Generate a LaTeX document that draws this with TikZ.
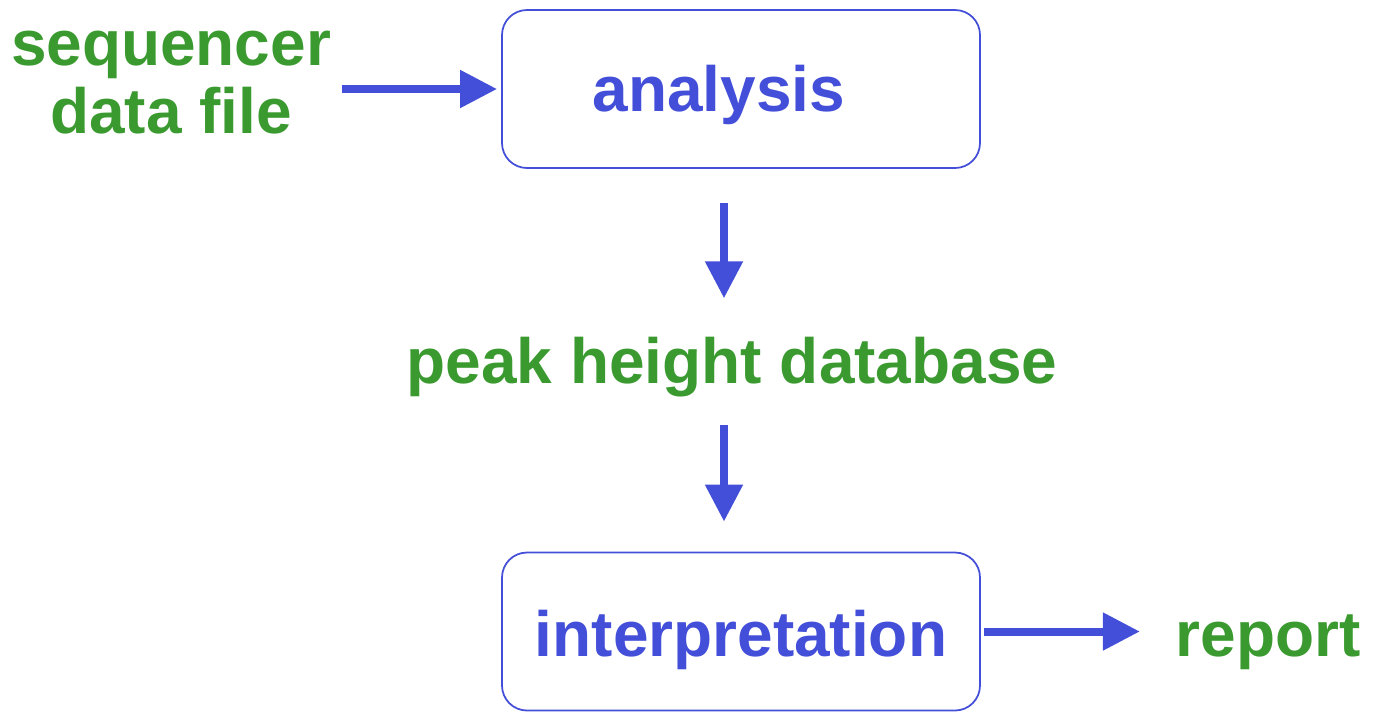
\documentclass[tikz,border=0pt]{standalone}
\usepackage{fontspec}
\setmainfont{Liberation Sans}
\usetikzlibrary{arrows.meta}
\definecolor{bl}{HTML}{444FD9}
\definecolor{gr}{HTML}{3A9A2F}
\tikzset{
  box/.style={draw=bl, line width=0.5pt, rounded corners=0.25cm, minimum width=4.78cm, minimum height=1.58cm, inner sep=0},
  btext/.style={text=bl, font=\fontsize{18.2}{19.5}\selectfont\bfseries, inner sep=0},
  gtext/.style={text=gr, font=\fontsize{18.2}{19.5}\selectfont\bfseries, inner sep=0, align=center},
  arr/.style={draw=bl, line width=0.08cm, -{Triangle[length=0.37cm, width=0.36cm]}}
}
\begin{document}
\begin{tikzpicture}
\useasboundingbox (0,0) rectangle (13.8,-7.12);
\node[box] (ana) at (7.41,-0.89) {};
\node[btext] (anat) at (7.19,-0.95) {analysis};
\node[box] (int) at (7.41,-6.315) {};
\node[btext] (intt) at (7.41,-6.395) {interpretation};
\node[gtext] (seq) at (1.71,-0.825) {sequencer\\data file};
\node[gtext] (db) at (7.32,-3.67) {peak height database};
\node[gtext] (rep) at (12.68,-6.42) {report};
\draw[arr] ([xshift=0.1cm]seq.east |- ana.west) -- ([xshift=-0.04cm]ana.west);
\draw[arr] ([xshift=-1.7mm,yshift=-3.4mm]ana.south) coordinate (a1) -- (a1 |- db.north) [shorten >=0.38cm];
\draw[arr] ([xshift=-0.8mm,yshift=-2.7mm]db.south) coordinate (a2) -- (a2 |- int.north) [shorten >=0.30cm];
\draw[arr] ([xshift=0.03cm]int.east) -- ([xshift=-0.35cm]rep.west |- int.east);
\end{tikzpicture}
\end{document}
